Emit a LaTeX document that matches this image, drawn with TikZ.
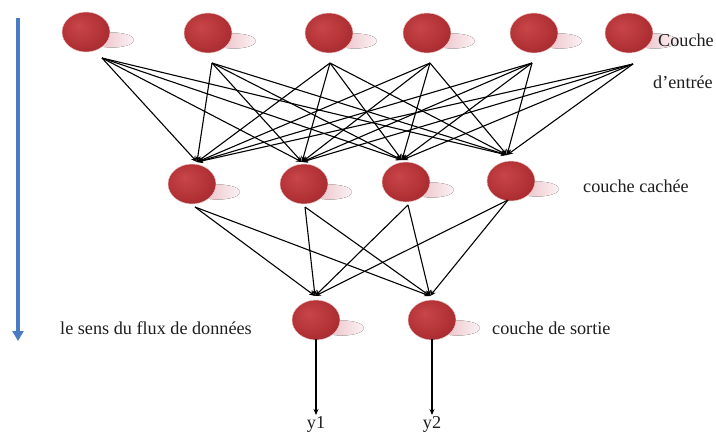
\documentclass[tikz,border=0pt]{standalone}
\usepackage{fontspec}
\setmainfont{Liberation Serif}
\usetikzlibrary{arrows.meta,calc,shapes.geometric}

\definecolor{ballhi}{RGB}{200,70,72}
\definecolor{ballmid}{RGB}{178,50,54}
\definecolor{balldark}{RGB}{140,30,36}
\definecolor{shadowin}{RGB}{232,182,190}
\definecolor{shadowout}{RGB}{252,242,244}
\definecolor{flowblue}{RGB}{74,124,196}
\definecolor{labelgray}{RGB}{30,30,30}

% off-centre radial shading for the neurons
\pgfdeclareradialshading{neuronshade}{\pgfpoint{-8bp}{8bp}}{%
  color(0bp)=(ballhi); color(22bp)=(ballmid); color(46bp)=(balldark); color(50bp)=(balldark)}

\tikzset{
  neuron/.style={ellipse, minimum width=48pt, minimum height=40pt, inner sep=0pt,
    shading=neuronshade, draw={rgb,255:red,238;green,200;blue,200}, line width=0.5pt},
  halo/.style={left color=shadowin, right color=shadowout, draw=none},
  link/.style={line width=1.1pt, black, -{Stealth[length=6pt,width=5pt]}},
  flow/.style={line width=3.2pt, flowblue, -{Triangle[length=10pt,width=11pt]}},
  lbl/.style={font=\fontsize{18.2}{21}\selectfont, text=labelgray, inner sep=0pt}
}

\begin{document}
\begin{tikzpicture}[x=1pt,y=-1pt]
\useasboundingbox (0,0) rectangle (716,432);

% input layer
\foreach \n/\x/\y/\sx/\sy in {1/86/32/102/58, 2/208/33/212/63, 3/329/33/330/63,
                              4/427/33/430/63, 5/534/33/532/63, 6/629/33/633/64}{
  \fill[halo] (\x+26,\y+8) ellipse (22 and 7.5);
  \node[neuron] (in\n) at (\x,\y) {};
  \coordinate (in\n s) at (\sx,\sy);
}

% hidden layer
\foreach \n/\x/\y/\tx/\ty/\bx/\by in {1/192/184/197/162/195/207, 2/304/184/302/162/305/207,
                                      3/406/182/402/160/408/205, 4/511/181/507/155/508/200}{
  \fill[halo] (\x+26,\y+8) ellipse (22 and 7.5);
  \node[neuron] (h\n) at (\x,\y) {};
  \coordinate (h\n t) at (\tx,\ty);
  \coordinate (h\n b) at (\bx,\by);
}

% output layer
\foreach \n/\x/\tx in {1/316/315, 2/432/430}{
  \fill[halo] (\x+26,328) ellipse (22 and 7.5);
  \node[neuron] (o\n) at (\x,320) {};
  \coordinate (o\n t) at (\tx,296);
  \coordinate (o\n b) at (\x,339);
  \coordinate (y\n) at (\x,415);
}

% connections
\foreach \i in {1,...,6}{
  \foreach \j in {1,...,4}{
    \draw[link] (in\i s) -- (h\j t);
  }
}
\foreach \j in {1,...,4}{
  \foreach \k in {1,2}{
    \draw[link] (h\j b) -- (o\k t);
  }
}
\foreach \k in {1,2}{
  \draw[link] (o\k b) -- (y\k);
}

% outputs
\node[lbl, anchor=north] (ylab1) at (316,416) {y1};
\node[lbl, anchor=north] (ylab2) at (432,416) {y2};

% direction of data flow
\coordinate (flowtop) at (18,18);
\coordinate (flowend) at (18,341);
\draw[flow] (flowtop) -- (flowend);

% layer labels
\node[lbl, anchor=west] (tin1) at (658,40) {Couche};
\node[lbl, anchor=west] (tin2) at (653,82) {d’entrée};
\node[lbl, anchor=west] (thid) at (583,186) {couche cachée};
\node[lbl, anchor=west] (tout) at (492,328) {couche de sortie};
\node[lbl, anchor=west] (tflow) at (60,328) {le sens du flux de données};
\end{tikzpicture}
\end{document}
